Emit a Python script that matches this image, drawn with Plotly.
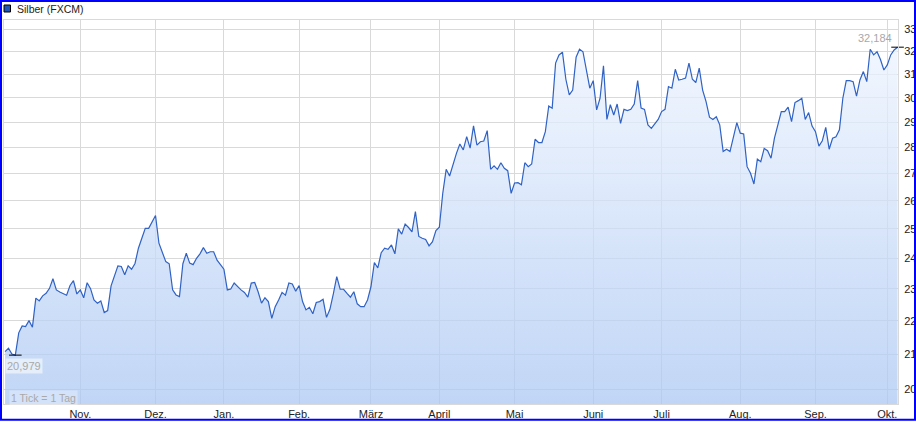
import numpy as np
import plotly.graph_objects as go

series_name = "Silber (FXCM)"
footnote = "1 Tick = 1 Tag"

# daily closes (one value per trading day), Oct 2023 .. Oct 2024
prices = [
    # Okt
    21.08, 21.18, 21.01, 20.979, 21.64, 21.85, 21.83, 22.01, 21.81, 22.71, 22.62,
    22.78, 22.86, 23.02, 23.33, 22.97, 22.90, 22.86, 22.80, 23.11, 23.27, 22.84,
    # Nov
    22.97, 22.72, 23.20, 23.01, 22.65, 22.55, 22.62, 22.26, 22.32, 23.10, 23.40,
    23.75, 23.73, 23.46, 23.75, 23.64, 23.83, 24.34, 24.68, 25.02, 25.02, 25.26,
    # Dez
    25.47, 24.51, 24.17, 23.89, 23.82, 22.97, 22.81, 22.76, 23.82, 24.17, 23.84,
    23.79, 24.00, 24.15, 24.36, 24.17, 24.22, 24.22, 23.94, 23.78,
    # Jan
    23.64, 22.97, 23.00, 23.19, 23.07, 22.97, 22.89, 22.74, 23.19, 23.21, 22.91,
    22.55, 22.72, 22.60, 22.08, 22.44, 22.65, 22.89, 22.80, 23.19, 23.16, 22.93,
    # Feb
    23.11, 22.60, 22.34, 22.42, 22.22, 22.57, 22.60, 22.67, 22.11, 22.36, 22.84,
    23.40, 22.99, 22.99, 22.86, 22.74, 22.91, 22.53, 22.44, 22.44, 22.65,
    # Maerz
    23.07, 23.86, 23.68, 24.19, 24.34, 24.30, 24.45, 24.15, 25.00, 24.82, 25.17,
    25.05, 24.90, 25.61, 24.74, 24.68, 24.64, 24.42, 24.56, 24.94,
    # April
    25.06, 26.27, 27.16, 26.91, 27.39, 27.77, 28.13, 27.90, 28.42, 27.97, 28.85,
    28.09, 28.22, 28.25, 28.66, 27.16, 27.29, 27.16, 27.41, 27.20, 27.11, 26.27,
    # Mai
    26.65, 26.66, 26.58, 27.41, 27.26, 27.36, 28.32, 28.19, 28.19, 28.62, 29.66,
    29.57, 31.48, 31.84, 31.96, 30.78, 30.12, 30.32, 31.74, 32.09, 31.98, 31.21, 30.40,
    # Juni
    30.72, 29.50, 29.98, 31.36, 29.11, 29.71, 29.29, 29.74, 28.95, 29.52, 29.47,
    29.52, 29.74, 30.72, 29.57, 29.52, 28.89, 28.75, 28.93, 29.11,
    # Juli
    29.43, 29.52, 30.47, 30.40, 31.21, 30.75, 30.78, 30.83, 31.48, 30.78, 30.64,
    31.26, 30.32, 29.84, 29.20, 29.11, 29.22, 28.89, 27.84, 27.93, 27.84, 28.40, 28.98,
    # Aug
    28.56, 28.53, 27.26, 27.01, 26.61, 27.55, 27.45, 27.96, 27.87, 27.58, 28.36,
    28.95, 29.43, 29.43, 29.61, 29.02, 29.80, 29.88, 29.98, 29.11, 29.39, 28.84,
    # Sep
    28.62, 28.05, 28.26, 28.79, 27.93, 28.36, 28.42, 28.69, 29.98, 30.72, 30.72,
    30.68, 30.07, 30.75, 31.11, 30.68, 32.09, 31.84, 31.98, 31.64, 31.18,
    # Okt
    31.40, 31.84, 32.06, 32.184,
]

month_labels = ["Nov.", "Dez.", "Jan.", "Feb.", "März", "April", "Mai",
                "Juni", "Juli", "Aug.", "Sep.", "Okt."]
month_start_idx = [22, 44, 64, 86, 107, 127, 149, 172, 192, 215, 237, 258]
y_ticks = [20, 21, 22, 23, 24, 25, 26, 27, 28, 29, 30, 31, 32, 33]

x = list(range(len(prices)))
imin = int(np.argmin(prices))
imax = int(np.argmax(prices))

def fmt(v):
    return f"{v:.3f}".replace(".", ",")

W, H = 916, 422
ML, MR, MT, MB = 4, 18, 20, 18
PW, PH = W - ML - MR, H - MT - MB

def px_x(p):
    return (p - ML) / PW

def px_y(p):
    return (H - MB - p) / PH

Y_LO, Y_HI = 1.29230, 1.52404
grid = "#d9d9d9"
font = "Liberation Sans, Arial, sans-serif"

fig = go.Figure()
fig.add_trace(go.Scatter(
    x=x, y=prices, mode="lines",
    line=dict(color="#2f62c4", width=1.2),
    fill="tozeroy",
    fillgradient=dict(type="vertical",
                      colorscale=[[0, "rgba(172,200,243,0.75)"], [1, "rgba(242,247,255,0.75)"]],
                      start=10 ** Y_LO, stop=10 ** Y_HI),
    hoverinfo="skip", showlegend=False,
))
fig.add_trace(go.Scatter(
    x=[imin, imax], y=[prices[imin], prices[imax]], mode="markers",
    marker=dict(symbol="line-ew-open", size=9, color="black", line=dict(color="black", width=1)),
    cliponaxis=False, hoverinfo="skip", showlegend=False,
))

annotations = [
    dict(x=imin, y=np.log10(prices[imin]), xref="x", yref="y", text=fmt(prices[imin]),
         showarrow=False, xanchor="left", yanchor="top", xshift=-10, yshift=-3,
         font=dict(family=font, size=11, color="#a8a8a8"),
         bgcolor="rgba(255,255,255,0.55)", borderpad=1),
    dict(x=imax, y=np.log10(prices[imax]), xref="x", yref="y", text=fmt(prices[imax]),
         showarrow=False, xanchor="right", yanchor="bottom", xshift=-4, yshift=1,
         font=dict(family=font, size=11, color="#a8a8a8")),
    dict(x=px_x(9), y=px_y(398.3), xref="paper", yref="paper", text=footnote,
         showarrow=False, xanchor="left", yanchor="middle",
         font=dict(family=font, size=10.5, color="#a8a8a8"),
         bgcolor="rgba(255,255,255,0.3)", borderpad=1),
    dict(x=px_x(15), y=px_y(9), xref="paper", yref="paper", text=series_name,
         showarrow=False, xanchor="left", yanchor="middle",
         font=dict(family=font, size=10.5, color="#222222")),
]

shapes = [
    dict(type="rect", xref="paper", yref="paper",
         x0=px_x(4), x1=px_x(10.5), y0=px_y(12), y1=px_y(5),
         fillcolor="#1f55b5", line=dict(color="black", width=1)),
    dict(type="rect", xref="paper", yref="paper", layer="above",
         x0=px_x(1), x1=px_x(915), y0=px_y(419.7), y1=px_y(1),
         fillcolor="rgba(0,0,0,0)", line=dict(color="#0000ff", width=2)),
]

fig.update_layout(
    width=W, height=H,
    margin=dict(l=ML, r=MR, t=MT, b=MB, pad=0, autoexpand=False),
    paper_bgcolor="white", plot_bgcolor="white",
    font=dict(family=font, size=11, color="#222222"),
    showlegend=False,
    annotations=annotations, shapes=shapes,
    xaxis=dict(range=[-0.31, 261.13], tickmode="array", tickvals=month_start_idx,
               ticktext=month_labels, showgrid=True, gridcolor=grid, gridwidth=1,
               showline=True, linecolor=grid, linewidth=1, mirror=True, ticks="",
               zeroline=False, automargin=False, tickfont=dict(size=11, color="#222222")),
    yaxis=dict(type="log", range=[Y_LO, Y_HI], side="right", tickmode="array",
               tickvals=y_ticks, ticktext=[str(v) for v in y_ticks],
               showgrid=True, gridcolor=grid, gridwidth=1,
               showline=True, linecolor=grid, linewidth=1, mirror=True, ticks="",
               zeroline=False, ticklabelstandoff=3, automargin=False,
               tickfont=dict(size=11, color="#222222")),
)

fig.write_html(
    "out.html",
    config={"displayModeBar": False, "staticPlot": True},
    post_script="document.body.style.margin='0';document.body.style.padding='0';"
                "document.body.style.overflow='hidden';",
)
